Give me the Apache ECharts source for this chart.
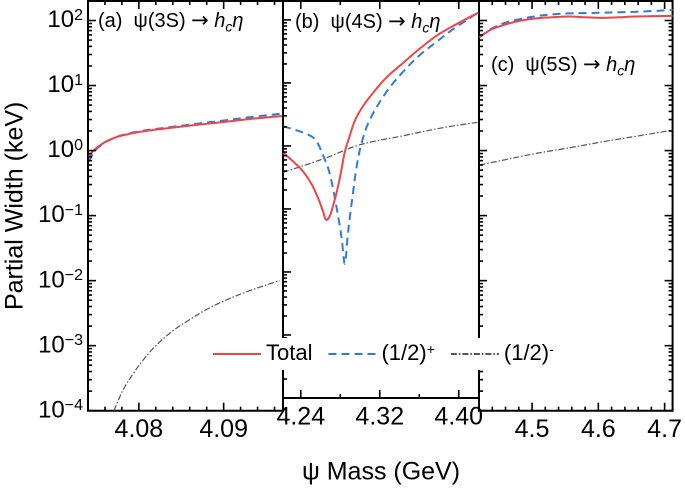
<!DOCTYPE html>
<html><head><meta charset="utf-8">
<script src="https://cdn.jsdelivr.net/npm/echarts@6/dist/echarts.min.js"></script>
<style>html,body{margin:0;padding:0;background:#fff}#c{width:685px;height:490px}</style>
</head><body><div id="c"></div>
<script>
// ---------- Panel (a): psi(3S) -> h_c eta ----------
const massA  = [4.0741, 4.0745, 4.0750, 4.0760, 4.0770, 4.0780, 4.0800, 4.0820, 4.0840, 4.0870, 4.0900, 4.0930, 4.0969];
const totalA = [0.80, 0.95, 1.10, 1.35, 1.55, 1.70, 1.93, 2.10, 2.25, 2.50, 2.75, 3.05, 3.40];
const plusA  = [0.68, 0.85, 1.05, 1.33, 1.55, 1.72, 1.97, 2.15, 2.32, 2.60, 2.90, 3.25, 3.70];
const massMinusA = [4.07707, 4.07812, 4.07929, 4.08045, 4.08182, 4.08395, 4.08590, 4.08785, 4.08987, 4.09290, 4.09660];
const minusA     = [1.0e-4, 2.07e-4, 3.65e-4, 5.88e-4, 9.48e-4, 1.67e-3, 2.47e-3, 3.52e-3, 4.75e-3, 6.89e-3, 1.0e-2];

// ---------- Panel (b): psi(4S) -> h_c eta ----------
const massTotalB = [4.2221, 4.2321, 4.2423, 4.2508, 4.2559, 4.2592, 4.2625, 4.2660, 4.2690, 4.2711, 4.2744, 4.2778, 4.2812, 4.2846, 4.2896, 4.2947, 4.3018, 4.3099, 4.3268, 4.3436, 4.3605, 4.3774, 4.3942, 4.4195];
const totalB     = [0.785, 0.57, 0.395, 0.25, 0.17, 0.128, 0.092, 0.067, 0.075, 0.092, 0.14, 0.23, 0.42, 0.80, 1.45, 2.5, 4.0, 6.0, 12.2, 20.7, 35, 56, 80, 129];
const massPlusB  = [4.2221, 4.2423, 4.2525, 4.2575, 4.2626, 4.2676, 4.2711, 4.2754, 4.2790, 4.2815, 4.2846, 4.2872, 4.2895, 4.2927, 4.2964, 4.3015, 4.3099, 4.3268, 4.3436, 4.3605, 4.3774, 4.3942, 4.4200];
const plusB      = [2.06, 1.63, 1.36, 1.08, 0.71, 0.45, 0.277, 0.125, 0.06, 0.033, 0.0135, 0.033, 0.07, 0.17, 0.45, 1.1, 2.6, 7.2, 15, 27.7, 44.7, 71, 132];
const massMinusB = [4.2221, 4.2643, 4.2997, 4.3436, 4.3841, 4.4200];
const minusB     = [0.38, 0.635, 1.04, 1.45, 1.95, 2.38];

// ---------- Panel (c): psi(5S) -> h_c eta ----------
const massC  = [4.4207, 4.4371, 4.4568, 4.4818, 4.5065, 4.5313, 4.5561, 4.5810, 4.6057, 4.6305, 4.6554, 4.7120];
const totalC = [55, 71.5, 85, 99, 108, 112, 115, 112, 110, 112, 115, 118];
const plusC  = [55, 73, 90.6, 105, 117, 124, 129, 130, 132, 134, 136, 145];
const massMinusC = [4.4207, 4.4600, 4.5065, 4.5600, 4.6057, 4.6600, 4.7120];
const minusC     = [0.60, 0.725, 0.905, 1.12, 1.36, 1.68, 2.06];

// ---------- Axes / ticks ----------
const Y_MIN = 1e-4, Y_MAX = 199.5;
const yMajor = [1e-4, 1e-3, 1e-2, 1e-1, 1, 10, 100];
const xMajorA = [4.08, 4.09];
const xMinorA = [4.076, 4.078, 4.082, 4.084, 4.086, 4.088, 4.092, 4.094, 4.096];
const xMajorB = [4.24, 4.32, 4.40];
const xMinorB = [4.28, 4.36];
const xMajorC = [4.5, 4.6, 4.7];
const xMinorC = [4.44, 4.46, 4.48, 4.52, 4.54, 4.56, 4.58, 4.62, 4.64, 4.66, 4.68];
const panelTitles = ['(a)', '(b)', '(c)'];
const panelStates = ['3S', '4S', '5S'];

const FONT = "'Liberation Sans', Arial, Helvetica, sans-serif";
const RED = '#ee4646', BLUE = '#2f7be0', GRAY = '#555555';

const yMinor = [];
for (let n = -4; n <= 2; n++) for (let k = 2; k <= 9; k++) {
  const v = +(k * Math.pow(10, n)).toPrecision(3);
  if (v < Y_MAX) yMinor.push(v);
}

const panels = [
  {min: 4.074, max: 4.097, left: 88, width: 195, xMajor: xMajorA, xMinor: xMinorA, dec: 2, right: false},
  {min: 4.222, max: 4.4205, left: 283, width: 196, xMajor: xMajorB, xMinor: xMinorB, dec: 2, right: false},
  {min: 4.42, max: 4.712, left: 479, width: 196, xMajor: xMajorC, xMinor: xMinorC, dec: 1, right: true}
];

function zip(xs, ys) { return xs.map((x, i) => [x, ys[i]]); }

const grids = [], xAxes = [], yAxes = [], series = [];
panels.forEach((p, i) => {
  grids.push({left: p.left, top: 1, width: p.width, height: 409.7, show: true,
              borderColor: '#000', borderWidth: 2, backgroundColor: 'transparent'});
  xAxes.push({
    type: 'value', gridIndex: i, min: p.min, max: p.max,
    axisLine: {show: false}, axisTick: {show: false}, splitLine: {show: false},
    axisLabel: {customValues: p.xMajor, fontSize: 25, color: '#000', fontFamily: FONT, margin: 7,
                formatter: v => v.toFixed(p.dec)},
    name: i === 1 ? 'ψ Mass (GeV)' : '', nameLocation: 'middle', nameGap: 62,
    nameTextStyle: {fontSize: 25, color: '#000', fontFamily: FONT}
  });
  yAxes.push({
    type: 'log', gridIndex: i, min: Y_MIN, max: Y_MAX, logBase: 10,
    axisLine: {show: false}, axisTick: {show: false}, splitLine: {show: false},
    axisLabel: {
      show: i === 0, customValues: yMajor, margin: 5,
      formatter: v => { const e = Math.round(Math.log10(v)); return '{b|10}{s|' + (e < 0 ? '\u2212' + (-e) : e) + '}'; },
      rich: {
        b: {fontSize: 24, color: '#000', fontFamily: FONT, lineHeight: 26},
        s: {fontSize: 16, color: '#000', fontFamily: FONT, verticalAlign: 'top', lineHeight: 16}
      }
    },
    name: i === 0 ? 'Partial Width (keV)' : '', nameLocation: 'middle', nameGap: 60,
    nameTextStyle: {fontSize: 25, color: '#000', fontFamily: FONT}
  });

  // tick marks drawn through the axes' own scales
  const tickData = [];
  p.xMajor.forEach(v => tickData.push([v, Y_MIN, 0, 1]));
  p.xMinor.forEach(v => tickData.push([v, Y_MIN, 0, 0]));
  yMajor.forEach(v => tickData.push([p.min, v, 1, 1]));
  yMinor.forEach(v => tickData.push([p.min, v, 1, 0]));
  series.push({
    type: 'custom', xAxisIndex: i, yAxisIndex: i, silent: true, z: 3,
    data: tickData,
    renderItem: function (params, api) {
      const kind = api.value(2), major = api.value(3);
      const len = major ? 8 : 4;
      const st = {stroke: '#000', lineWidth: 1.6};
      const ch = [];
      if (kind === 0) {
        const v = api.value(0);
        const b = api.coord([v, Y_MIN]), t = api.coord([v, Y_MAX]);
        ch.push({type: 'line', shape: {x1: b[0], y1: b[1], x2: b[0], y2: b[1] - len}, style: st});
        ch.push({type: 'line', shape: {x1: t[0], y1: t[1], x2: t[0], y2: t[1] + len}, style: st});
      } else {
        const v = api.value(1);
        const l = api.coord([p.min, v]);
        ch.push({type: 'line', shape: {x1: l[0], y1: l[1], x2: l[0] + len, y2: l[1]}, style: st});
        if (p.right) {
          const r = api.coord([p.max, v]);
          ch.push({type: 'line', shape: {x1: r[0], y1: r[1], x2: r[0] - len, y2: r[1]}, style: st});
        }
      }
      return {type: 'group', children: ch};
    }
  });
});

const common = {type: 'line', symbol: 'none', showSymbol: false, smooth: 0.35, z: 2};
const dataSets = [
  [zip(massA, totalA), zip(massA, plusA), zip(massMinusA, minusA)],
  [zip(massTotalB, totalB), zip(massPlusB, plusB), zip(massMinusB, minusB)],
  [zip(massC, totalC), zip(massC, plusC), zip(massMinusC, minusC)]
];
dataSets.forEach((d, i) => {
  series.push(Object.assign({}, common, {name: '(1/2)-', xAxisIndex: i, yAxisIndex: i, data: d[2],
    color: GRAY, lineStyle: {color: GRAY, width: 1.2, type: [6, 2, 1.5, 2]}}));
  series.push(Object.assign({}, common, {name: '(1/2)+', xAxisIndex: i, yAxisIndex: i, data: d[1],
    color: BLUE, lineStyle: {color: BLUE, width: 2, type: [8, 5]}}));
  series.push(Object.assign({}, common, {name: 'Total', xAxisIndex: i, yAxisIndex: i, data: d[0],
    color: RED, lineStyle: {color: RED, width: 2}}));
});

const titlePos = [[98, 11], [295, 12], [491, 55]];
const graphics = panelTitles.map((t, i) => ({
  type: 'text', left: titlePos[i][0], top: titlePos[i][1], z: 10,
  style: {
    text: '{n|' + t + '  ψ(' + panelStates[i] + ') }{a|→}{n| }{i|h}{sub|c}{i|η}',
    rich: {
      n: {fontSize: 20, fontFamily: FONT, fill: '#000', lineHeight: 26},
      a: {fontSize: 21, fontFamily: "'DejaVu Sans', sans-serif", fill: '#000', lineHeight: 26},
      i: {fontSize: 20, fontFamily: FONT, fill: '#000', fontStyle: 'italic', lineHeight: 26},
      sub: {fontSize: 14, fontFamily: FONT, fill: '#000', fontStyle: 'italic', verticalAlign: 'bottom', lineHeight: 14}
    }
  }
}));

const chart = echarts.init(document.getElementById('c'), null, {renderer: 'canvas', devicePixelRatio: 2});
chart.setOption({
  animation: false,
  backgroundColor: '#fff',
  grid: grids, xAxis: xAxes, yAxis: yAxes, series: series,
  graphic: graphics,
  legend: {
    data: ['Total', '(1/2)+', '(1/2)-'], selectedMode: false,
    left: 205, top: 338, padding: [5, 7, 5, 7], itemGap: 15, itemWidth: 48, itemHeight: 14,
    backgroundColor: '#fff', z: 20,
    itemStyle: {opacity: 0},
    textStyle: {fontSize: 22, color: '#000', fontFamily: FONT,
      rich: {s: {fontSize: 14, color: '#000', fontFamily: FONT, verticalAlign: 'top', lineHeight: 13}}},
    formatter: function (name) {
      if (name === '(1/2)+') return '(1/2){s|+}';
      if (name === '(1/2)-') return '(1/2){s|-}';
      return name;
    }
  }
});
</script></body></html>
